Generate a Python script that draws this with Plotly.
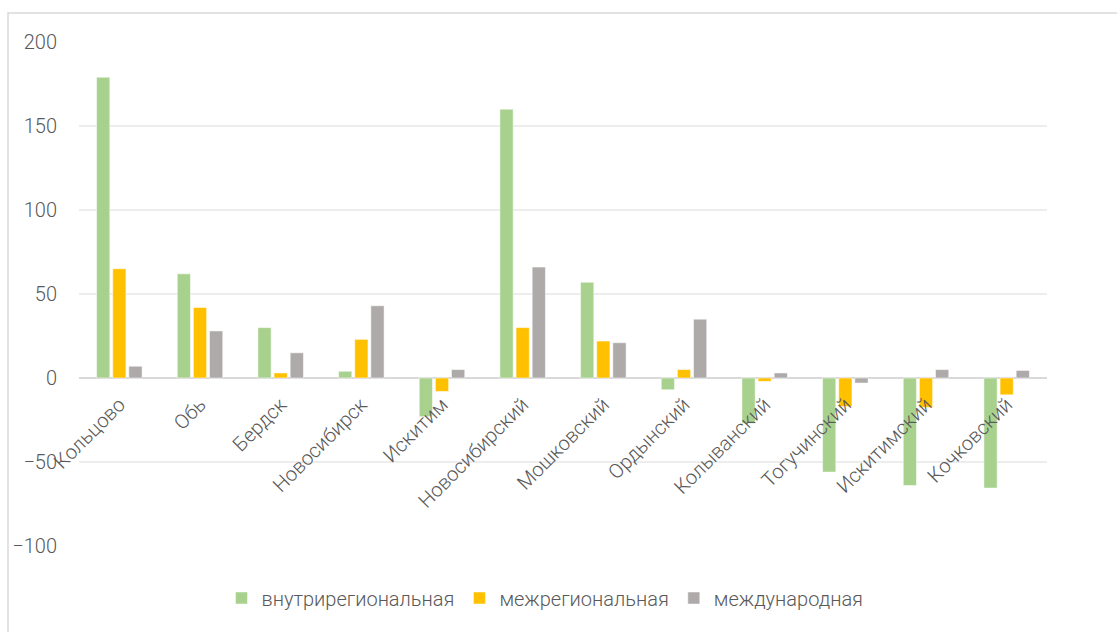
import plotly.graph_objects as go

# Районы и городские округа
categories = ["Кольцово", "Обь", "Бердск", "Новосибирск", "Искитим", "Новосибирский",
              "Мошковский", "Ордынский", "Колыванский", "Тогучинский", "Искитимский", "Кочковский"]

series_names = ["внутрирегиональная", "межрегиональная", "международная"]
intra = [179, 62, 30, 4, -23, 160, 57, -7, -27, -56, -64, -65.5]
inter = [65, 42, 3, 23, -8, 30, 22, 5, -2, -17, -17.5, -10]
intl = [7, 28, 15, 43, 5, 66, 21, 35, 3, -3, 5, 4.5]

colors = ["#A9D18E", "#FFC000", "#AEAAAA"]
y_ticks = [-100, -50, 0, 50, 100, 150, 200]

FONT = "Roboto, sans-serif"
TEXT = "#595959"

W, H = 1117, 632
ML, MR, MT, MB = 79, 70, 42, 86
pw, ph = W - ML - MR, H - MT - MB

fig = go.Figure()
for name, vals, col in zip(series_names, [intra, inter, intl], colors):
    fig.add_trace(go.Bar(x=categories, y=vals, name=name, marker_color=col,
                         marker_line_color="white", marker_line_width=0.5))

ymin, ymax = y_ticks[0], y_ticks[-1]

def px_x(x):
    return (x - ML) / pw

def px_y(y):
    return (H - MB - y) / ph

tick_font = dict(family=FONT, size=20, color=TEXT, weight=300)

fig.update_layout(
    width=W, height=H,
    margin=dict(l=ML, r=MR, t=MT, b=MB),
    paper_bgcolor="white", plot_bgcolor="white",
    barmode="group", bargap=0.40, bargroupgap=0.18,
    font=dict(family=FONT, color=TEXT, size=20, weight=300),
    xaxis=dict(anchor="free", position=(0 - ymin) / (ymax - ymin),
               tickangle=-45, showgrid=False, showline=False, ticks="",
               ticklabelstandoff=10, tickfont=tick_font),
    yaxis=dict(range=[ymin, ymax], tickvals=y_ticks, showgrid=True,
               gridcolor="#EDEDED", gridwidth=1.5, zeroline=True,
               zerolinecolor="#D9D9D9", zerolinewidth=2, showline=False,
               ticks="", ticklabelstandoff=21, tickfont=tick_font),
    legend=dict(orientation="h", x=px_x(545), xanchor="center",
                y=px_y(598), yanchor="middle", font=tick_font,
                traceorder="normal"),
    shapes=[dict(type="rect", xref="paper", yref="paper",
                 x0=px_x(8), x1=px_x(1130), y0=px_y(645), y1=px_y(13),
                 line=dict(color="#D9D9D9", width=1.5), layer="below")],
)

fig.write_html("out.html")
